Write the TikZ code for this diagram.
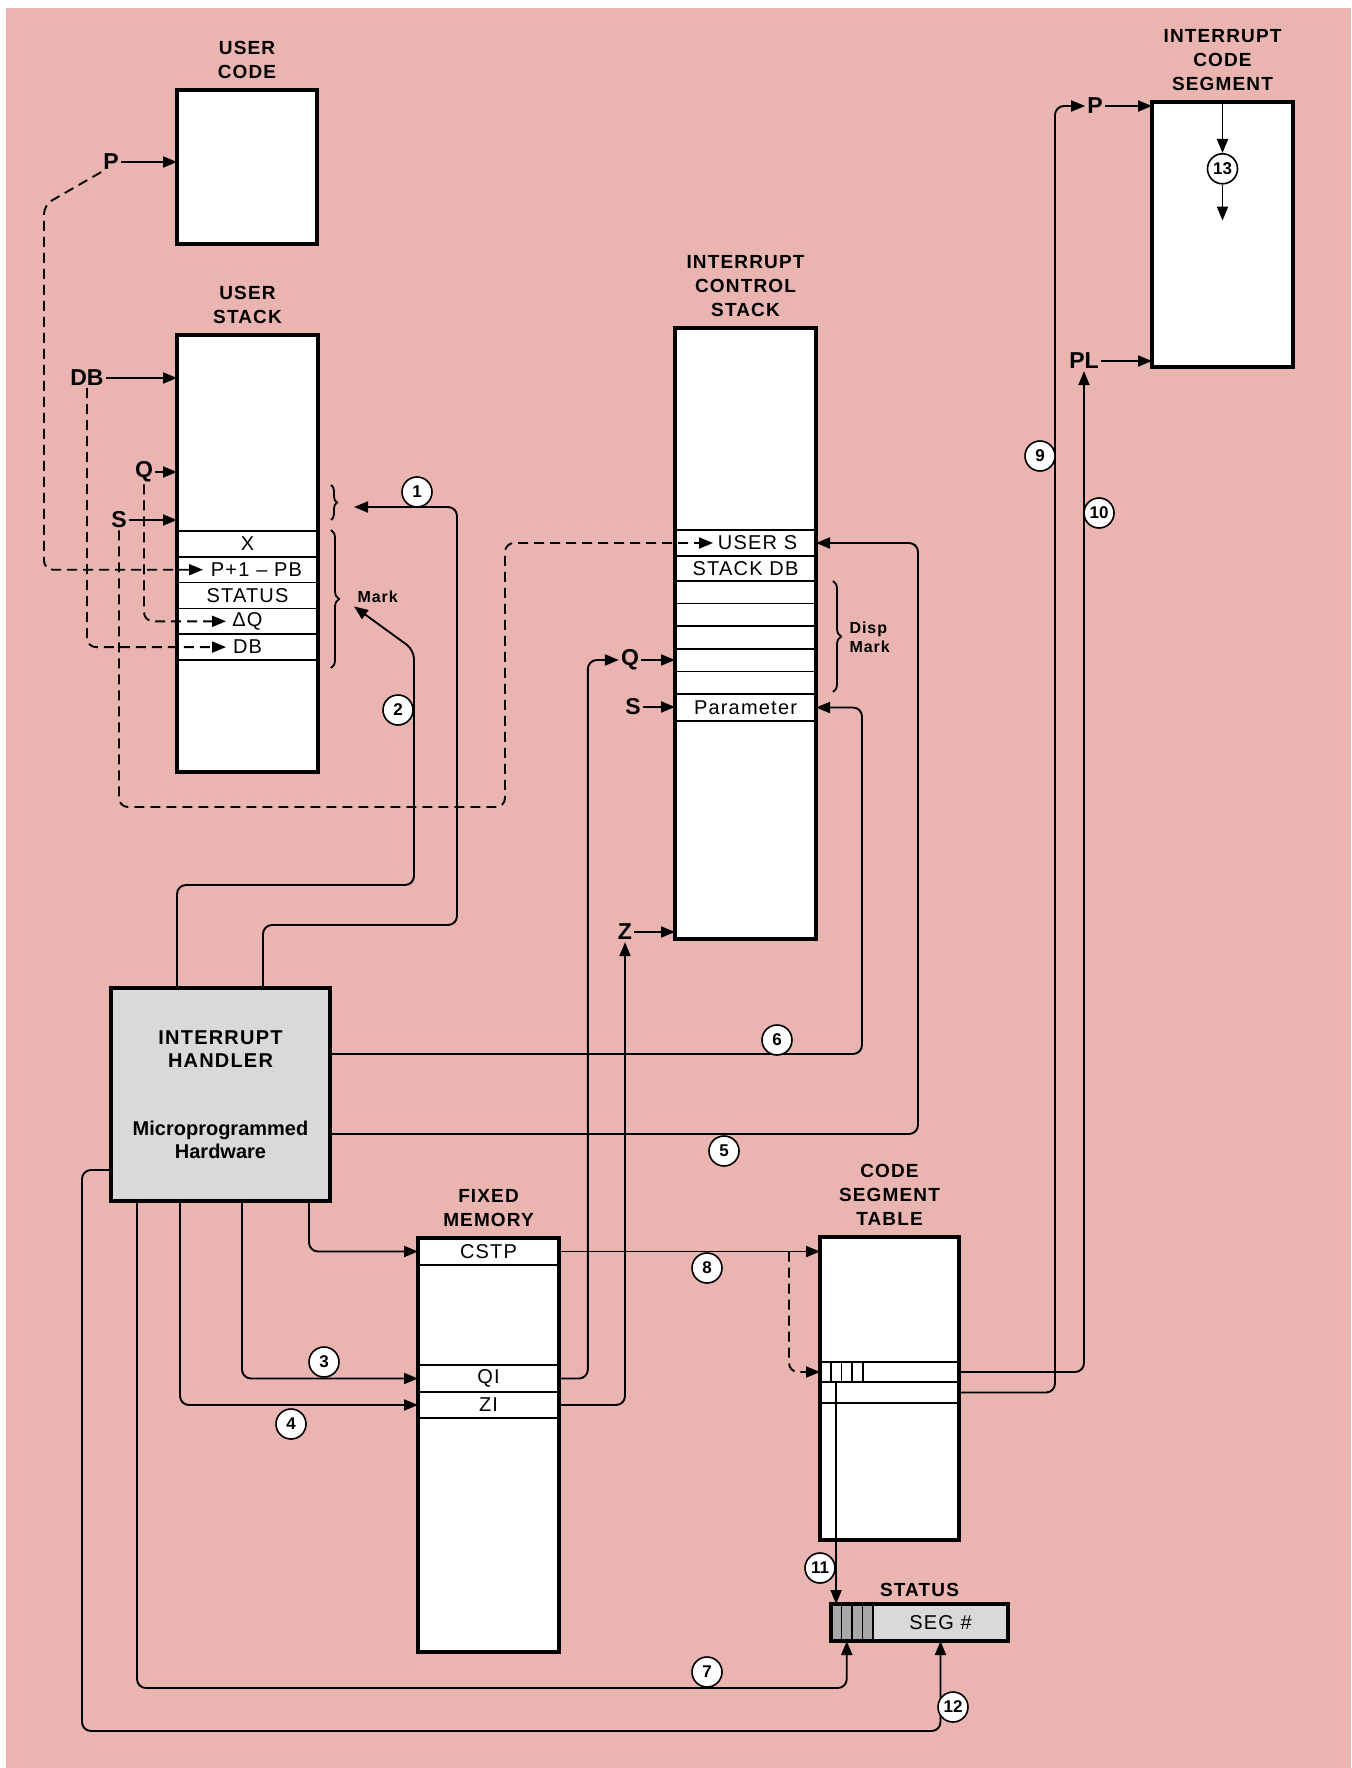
\documentclass[tikz,border=0pt]{standalone}
\usepackage{fontspec}
\setmainfont{Liberation Sans}
\newfontfamily\trackedsans[LetterSpace=6]{Liberation Sans}
\usepackage{tikz}
\usetikzlibrary{arrows.meta,positioning,calc,decorations.pathreplacing}
\definecolor{Blush}{HTML}{EAB5B1}
\definecolor{Panel}{HTML}{DAD8D8}
\definecolor{Shade}{HTML}{A9A7A7}
\tikzset{
  memory/.style={draw, line width=3.2pt, fill=white, anchor=north west, inner sep=0pt, outer sep=0pt},
  cell/.style={draw, line width=1.6pt, anchor=north west, inner sep=0pt, outer sep=0pt, minimum width=141pt, font={\trackedsans\fontsize{20}{22}\selectfont}},
  heading/.style={align=center, font={\trackedsans\bfseries\fontsize{19}{24}\selectfont}},
  pointer/.style={inner sep=2pt, font={\bfseries\fontsize{23}{26}\selectfont}},
  num/.style={circle, draw, fill=white, line width=1.6pt, minimum size=30pt, inner sep=0pt, font={\bfseries\fontsize{17}{17}\selectfont}},
  note/.style={align=left, font={\trackedsans\bfseries\fontsize{16}{19}\selectfont}},
  arrow/.style={-{Triangle[length=14pt, width=11pt]}, line width=1.9pt, rounded corners=9pt},
  darrow/.style={arrow, dash pattern=on 10pt off 6pt},
  brace/.style={decorate, decoration={brace, amplitude=8pt}, line width=1.8pt}
}

\begin{document}
\begin{tikzpicture}[x=1pt, y=-1pt]
\useasboundingbox (0,0) rectangle (1351,1768);
\fill[Blush] (6,8) rectangle (1351,1768);
\node[memory, minimum width=140pt, minimum height=154pt] (ucode) at (177,90) {};
\node[heading, above=8pt of ucode] (ucodet) {USER\\CODE};
\node[memory, minimum width=141pt, minimum height=437pt] (ustack) at (177,335) {};
\node[heading, above=8pt of ustack] (ustackt) {USER\\STACK};
\node[cell, minimum height=25.8pt] (ux) at (177,531) {X};
\node[cell, minimum height=25.8pt, below=0pt of ux] (upb) {\hspace*{18pt}P+1 – PB};
\node[cell, minimum height=25.8pt, below=0pt of upb] (ustat) {STATUS};
\node[cell, minimum height=25.8pt, below=0pt of ustat] (udq) {ΔQ};
\node[cell, minimum height=25.8pt, below=0pt of udq] (udbr) {DB};
\node[pointer] (up) at (111,162) {P};
\node[pointer] (udb) at (87,378) {DB};
\node[pointer] (uq) at (144,472) {Q};
\node[pointer] (us) at (119,520) {S};
\draw[arrow] (up) -- (up -| ucode.west);
\draw[arrow] (udb) -- (udb -| ustack.west);
\draw[arrow] (uq) -- (uq -| ustack.west);
\draw[arrow] (us) -- (us -| ustack.west);
\draw[darrow] (up.south west) -- (44,205) |- ([xshift=26pt]upb.west);
\draw[darrow] (udb.south) |- ([xshift=49pt]udbr.west);
\draw[darrow] (uq.south) |- ([xshift=49pt]udq.west);
\draw[brace, decoration={amplitude=6pt}] (331,485) -- (331,520);
\draw[brace] (331,530) -- (331,668);
\node[note, anchor=west] (mark) at (354,597) {Mark};
\coordinate (sbtip) at (354,507);

\node[memory, minimum width=141pt, minimum height=611pt] (ics) at (675,328) {};
\node[heading, above=8pt of ics] (icst) {INTERRUPT\\CONTROL\\STACK};
\node[cell, minimum height=26pt] (iusers) at (675,530) {\hspace*{24pt}USER S};
\node[cell, minimum height=25pt, below=0pt of iusers] (isdb) {STACK DB};
\node[cell, minimum height=22.6pt, below=0pt of isdb] (ib1) {};
\node[cell, minimum height=22.6pt, below=0pt of ib1] (ib2) {};
\node[cell, minimum height=22.6pt, below=0pt of ib2] (ib3) {};
\node[cell, minimum height=22.6pt, below=0pt of ib3] (ib4) {};
\node[cell, minimum height=22.6pt, below=0pt of ib4] (ib5) {};
\node[cell, minimum height=27pt, below=0pt of ib5] (iparam) {Parameter};
\node[pointer] (iq) at (630,660) {Q};
\node[pointer] (is) at (633,707) {S};
\node[pointer] (iz) at (625,932) {Z};
\draw[arrow] (iq) -- (iq -| ics.west);
\draw[arrow] (is) -- (is -| ics.west);
\draw[arrow] (iz) -- (iz -| ics.west);
\draw[brace] (833,581) -- (833,692);
\node[note, anchor=west] (dmark) at (846,637) {Disp\\Mark};
\draw[darrow] (us.south) |- (505,807) |- ([xshift=38pt]iusers.west);

\node[memory, minimum width=141pt, minimum height=265pt] (icseg) at (1152,102) {};
\node[heading, above=8pt of icseg] (icsegt) {INTERRUPT\\CODE\\SEGMENT};
\node[pointer] (cp) at (1095,106) {P};
\node[pointer] (cpl) at (1084,361) {PL};
\draw[arrow] (cp) -- (cp -| icseg.west);
\draw[arrow] (cpl) -- (cpl -| icseg.west);
\node[num, below=51pt of icseg.north] (n13) {13};
\coordinate[below=36pt of n13.south] (n13end);
\draw[arrow] (icseg.north) -- (n13);
\draw[arrow] (n13) -- (n13end);

\node[memory, fill=Panel, minimum width=219pt, minimum height=213pt, align=center, font={\bfseries\fontsize{20}{23}\selectfont}] (handler) at (111,988) {{\trackedsans INTERRUPT}\\{\trackedsans HANDLER}\\[45pt]Microprogrammed\\Hardware};

\node[memory, minimum width=141pt, minimum height=414pt] (fmem) at (418,1238) {};
\node[heading, above=8pt of fmem] (fmemt) {FIXED\\MEMORY};
\node[cell, minimum height=27pt] (cstp) at (418,1238) {CSTP};
\node[cell, minimum height=27pt] (qi) at (418,1365) {QI};
\node[cell, minimum height=26pt, below=0pt of qi] (zi) {ZI};

\node[memory, minimum width=139pt, minimum height=303pt] (cst) at (820,1237) {};
\node[heading, above=8pt of cst] (cstt) {CODE\\SEGMENT\\TABLE};
\node[cell, minimum width=139pt, minimum height=20pt] (crow1) at (820,1362) {};
\node[cell, minimum width=139pt, minimum height=21pt, below=0pt of crow1] (crow2) {};
\node[cell, minimum width=10.75pt, minimum height=20pt] (tag1) at (820,1362) {};
\node[cell, minimum width=10.75pt, minimum height=20pt, right=0pt of tag1] (tag2) {};
\node[cell, minimum width=10.75pt, minimum height=20pt, right=0pt of tag2] (tag3) {};
\node[cell, minimum width=10.75pt, minimum height=20pt, right=0pt of tag3] (tag4) {};

\node[memory, fill=Panel, minimum width=177pt, minimum height=37pt] (status) at (831,1604) {};
\node[heading, above=4pt of status] (statust) {STATUS};
\node[cell, fill=Shade, minimum width=10.5pt, minimum height=37pt] (sc1) at (831,1604) {};
\node[cell, fill=Shade, minimum width=10.5pt, minimum height=37pt, right=0pt of sc1] (sc2) {};
\node[cell, fill=Shade, minimum width=10.5pt, minimum height=37pt, right=0pt of sc2] (sc3) {};
\node[cell, fill=Shade, minimum width=10.5pt, minimum height=37pt, right=0pt of sc3] (sc4) {};
\draw[line width=3.2pt] (status.north west) rectangle (status.south east);
\node[font={\trackedsans\fontsize{20}{22}\selectfont}] (seg) at ($(sc4.east)!0.5!(status.east)$) {SEG \#};

\draw[arrow] ([xshift=152pt]handler.north west) |- (457,925) |- (sbtip);
\draw[arrow] ([xshift=66pt]handler.north west) |- (414,885) -- (414,650) -- (mark.south west);
\draw[arrow] ([xshift=198pt]handler.south west) |- (cstp.west);
\draw[arrow] ([xshift=131pt]handler.south west) |- (qi.west);
\draw[arrow] ([xshift=69pt]handler.south west) |- (zi.west);
\draw[arrow] ([yshift=-39.5pt]handler.east) -| ([xshift=102pt]iusers.east) -- (iusers.east);
\draw[arrow] ([yshift=40.5pt]handler.east) -| ([xshift=46pt]iparam.east) -- (iparam.east);
\draw[arrow] ([xshift=26pt]handler.south west) |- ([yshift=-47pt]sc2.south) -- (sc2.south);
\draw[arrow] ([yshift=31pt]handler.south west) -| (82,1731) -| (seg |- status.south);
\draw[arrow] (qi.east) -| ([xshift=-31pt]iq.west) -- (iq.west);
\draw[arrow] (zi.east) -| (iz.south);
\draw[arrow] (cstp.east) -- (cstp.east -| cst.west);
\draw[darrow] ([xshift=-31pt]cstp.east -| cst.west) |- (crow1.west);
\draw[arrow] (tag2.south) -- (tag2.south |- status.north);
\draw[arrow] (crow2.east) -| (1055,106) -- (cp.west);
\draw[arrow] (crow1.east) -| (cpl.south);

\node[num] (n1) at (417,492) {1};
\node[num] (n2) at (398,710) {2};
\node[num] (n3) at (324,1362) {3};
\node[num] (n4) at (291,1424) {4};
\node[num] (n5) at (724,1151) {5};
\node[num] (n6) at (777,1040) {6};
\node[num] (n7) at (707,1672) {7};
\node[num] (n8) at (707,1268) {8};
\node[num] (n9) at (1040,456) {9};
\node[num] (n10) at (1099,513) {10};
\node[num] (n11) at (820,1568) {11};
\node[num] (n12) at (953,1707) {12};
\end{tikzpicture}
\end{document}
